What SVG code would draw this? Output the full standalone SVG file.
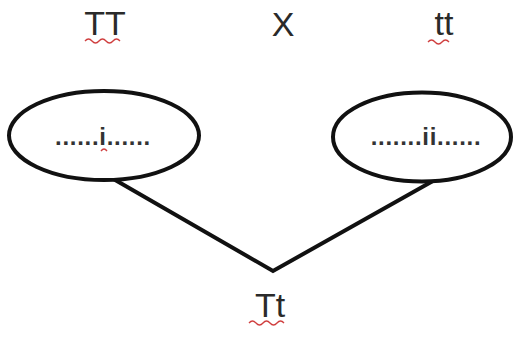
<svg xmlns="http://www.w3.org/2000/svg" width="521" height="341" viewBox="0 0 521 341">
<style>
.lbl{font-family:"Liberation Sans","Open Sans",sans-serif;font-size:34px;fill:#2a2a2a;text-anchor:middle}
.dots{font-family:"Liberation Sans","Open Sans",sans-serif;font-size:24px;font-weight:bold;fill:#333;text-anchor:middle;letter-spacing:0.7px}
.ell{fill:#fff;stroke:#111;stroke-width:4}
.conn{fill:none;stroke:#111;stroke-width:4;stroke-linejoin:miter}
.wavy{fill:none;stroke:#d04040;stroke-width:1.3}
</style>
<rect width="521" height="341" fill="#fff"/>
<g id="connectors">
<polyline class="conn" points="110,177 273,271 440,177"/>
</g>
<g id="parent-TT">
<text class="lbl" x="105" y="35">TT</text>
<path class="wavy" d="M85,41 q3.5,-4 7,0 t7,0 t7,0 t7,0 t7,0"/>
</g>
<g id="cross">
<text class="lbl" x="283" y="36">X</text>
</g>
<g id="parent-tt">
<text class="lbl" x="444" y="35">tt</text>
<path class="wavy" d="M428,42 q3.5,-4 7,0 t7,0 t7,0"/>
</g>
<g id="gamete-i">
<ellipse class="ell" cx="104" cy="135.5" rx="95" ry="44.5"/>
<text class="dots" x="103" y="145">......i......</text>
<path class="wavy" d="M101,151 q3,-4 6,0"/>
</g>
<g id="gamete-ii">
<ellipse class="ell" cx="422" cy="137" rx="89" ry="44.5"/>
<text class="dots" x="426" y="145">.......ii......</text>
</g>
<g id="offspring-Tt">
<text class="lbl" x="270" y="317">Tt</text>
<path class="wavy" d="M249,323 q3.5,-4 7,0 t7,0 t7,0 t7,0 t7,0"/>
</g>
</svg>
